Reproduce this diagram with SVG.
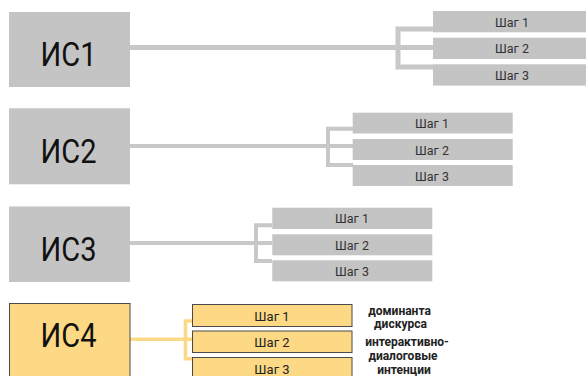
<svg xmlns="http://www.w3.org/2000/svg" width="586" height="376" viewBox="0 0 586 376">
<style>
.main{fill:#c4c4c4}
.step{fill:#c4c4c4}
.y{fill:#fdd985;stroke:#4a4a4a;stroke-width:1}
.big{font-family:Roboto,"Liberation Sans",sans-serif;font-size:34px;fill:#111;text-anchor:middle}
.st{font-family:Roboto,"Liberation Sans",sans-serif;font-size:12.5px;fill:#333;text-anchor:middle}
.st4{font-family:Roboto,"Liberation Sans",sans-serif;font-size:13px;fill:#222;text-anchor:middle}
.lab{font-family:Roboto,"Liberation Sans",sans-serif;font-size:12px;font-weight:bold;fill:#222;text-anchor:middle}
.g{fill:none;stroke:#c8c8c8;stroke-linejoin:miter}
.yl{fill:none;stroke:#fcd987;stroke-width:3.5}
</style>
<rect width="586" height="376" fill="#ffffff"/>
<g id="connectors">
<path class="g" stroke-width="5" d="M130 47.5H433M433 29H398V67H433"/>
<path class="g" stroke-width="4" d="M130 146H353M353 128.7H328V165H353"/>
<path class="g" stroke-width="4" d="M130 243H272M272 225.3H256V261H272"/>
<path class="yl" d="M130 339.3H192M192 321H185.5V358.7H192"/>
</g>
<g id="is1">
<rect class="main" x="9" y="12" width="121" height="75"/>
<text class="big" x="68.5" y="65.5" textLength="56" lengthAdjust="spacingAndGlyphs">ИС1</text>
</g>
<g id="is1-step1"><rect class="step" x="433" y="11" width="160" height="21.3"/><text class="st" x="512" y="26.8">Шаг 1</text></g>
<g id="is1-step2"><rect class="step" x="433" y="37.7" width="160" height="21.3"/><text class="st" x="512" y="53.3">Шаг 2</text></g>
<g id="is1-step3"><rect class="step" x="433" y="64.3" width="160" height="21.3"/><text class="st" x="512" y="79.8">Шаг 3</text></g>
<g id="is2">
<rect class="main" x="9" y="108.3" width="121" height="76"/>
<text class="big" x="68.5" y="163" textLength="56" lengthAdjust="spacingAndGlyphs">ИС2</text>
</g>
<g id="is2-step1"><rect class="step" x="352.7" y="112.7" width="160" height="20.8"/><text class="st" x="432" y="128.3">Шаг 1</text></g>
<g id="is2-step2"><rect class="step" x="352.7" y="139" width="160" height="21"/><text class="st" x="432" y="154.8">Шаг 2</text></g>
<g id="is2-step3"><rect class="step" x="352.7" y="165" width="160" height="21"/><text class="st" x="432" y="180.8">Шаг 3</text></g>
<g id="is3">
<rect class="main" x="9" y="206.5" width="121" height="75.5"/>
<text class="big" x="68.5" y="260.5" textLength="56" lengthAdjust="spacingAndGlyphs">ИС3</text>
</g>
<g id="is3-step1"><rect class="step" x="272.3" y="207.7" width="160" height="21.3"/><text class="st" x="352" y="223.3">Шаг 1</text></g>
<g id="is3-step2"><rect class="step" x="272.3" y="234.3" width="160" height="21"/><text class="st" x="352" y="250">Шаг 2</text></g>
<g id="is3-step3"><rect class="step" x="272.3" y="260.3" width="160" height="21"/><text class="st" x="352" y="276">Шаг 3</text></g>
<g id="is4">
<rect class="y" x="9.5" y="303.5" width="120.5" height="80"/>
<text class="big" x="68.5" y="347" textLength="56" lengthAdjust="spacingAndGlyphs">ИС4</text>
</g>
<g id="is4-step1"><rect class="y" x="192.5" y="304.5" width="159.5" height="22"/><text class="st4" x="272" y="320.7">Шаг 1</text></g>
<g id="is4-step2"><rect class="y" x="192.5" y="331" width="159.5" height="21.5"/><text class="st4" x="272" y="347">Шаг 2</text></g>
<g id="is4-step3"><rect class="y" x="192.5" y="357.5" width="159.5" height="25"/><text class="st4" x="272" y="373.5">Шаг 3</text></g>
<g id="labels">
<text class="lab" x="399.5" y="314.5">доминанта</text>
<text class="lab" x="400.5" y="328">дискурса</text>
<text class="lab" x="407" y="345.5">интерактивно-</text>
<text class="lab" x="403" y="360">диалоговые</text>
<text class="lab" x="404" y="374">интенции</text>
</g>
</svg>
